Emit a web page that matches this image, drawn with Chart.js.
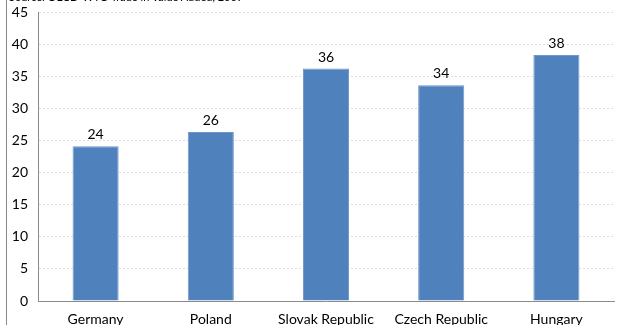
<!DOCTYPE html>
<html>
<head>
<meta charset="utf-8">
<script src="https://cdn.jsdelivr.net/npm/chart.js@4.4.1/dist/chart.umd.min.js"></script>
<style>
  html, body { margin: 0; padding: 0; background: #fff; overflow: hidden; }
  #wrap { position: relative; width: 617px; height: 325px; }
  #frame { position: absolute; left: 6px; top: 0; width: 0; height: 325px; border-left: 1px solid #8a8a8a; }
  #source { position: absolute; left: 9px; top: -10px; font: 11px Lato, sans-serif; color: #000; white-space: nowrap; }
  canvas { position: absolute; left: 0; top: 0; }
</style>
</head>
<body>
<div id="wrap">
  <canvas id="myChart" width="617" height="325"></canvas>
  <div id="frame"></div>
  <div id="source">Source: OECD-WTO Trade in Value Added, 2009</div>
</div>
<script>
const countries = ['Germany', 'Poland', 'Slovak Republic', 'Czech Republic', 'Hungary'];
const shares = [24.1, 26.3, 36.2, 33.6, 38.3];

const ctx = document.getElementById('myChart');

// value labels above each bar
const barLabels = {
    id: 'barLabels',
    afterDatasetsDraw(chart) {
        const c = chart.ctx;
        const meta = chart.getDatasetMeta(0);
        c.save();
        c.font = '14px Lato, sans-serif';
        c.fillStyle = '#000';
        c.textAlign = 'center';
        c.textBaseline = 'alphabetic';
        meta.data.forEach((bar, i) => {
            c.fillText(Math.round(shares[i]).toString(), bar.x, bar.y - 7);
        });
        c.restore();
    }
};

new Chart(ctx, {
    type: 'bar',
    data: {
        labels: countries,
        datasets: [
            {
                data: shares,
                backgroundColor: '#4f81bd',
                borderColor: '#6f97c9',
                borderWidth: 1,
                categoryPercentage: 1,
                barPercentage: 0.4
            }
        ]
    },
    options: {
        responsive: false,
        animation: false,
        layout: {
            padding: { left: 0, right: 3, top: 12, bottom: 0 }
        },
        plugins: {
            legend: { display: false },
            tooltip: { enabled: false }
        },
        scales: {
            x: {
                grid: { display: false },
                border: { display: true, color: '#8a8a8a' },
                ticks: {
                    color: '#000',
                    font: { family: 'Lato', size: 14 },
                    padding: 2,
                    maxRotation: 0
                },
                afterFit(scale) { scale.height = 24; }
            },
            y: {
                min: 0,
                max: 45,
                grid: {
                    color: (c) => c.tick.value === 0 ? 'rgba(0,0,0,0)' : '#dcdcdc',
                    drawTicks: false
                },
                border: { display: true, color: '#8a8a8a', dash: [2, 2] },
                ticks: {
                    stepSize: 5,
                    color: '#000',
                    font: { family: 'Lato', size: 14 },
                    padding: 10
                },
                afterFit(scale) {
                    scale.width = 38;
                    scale.paddingTop = 0;
                    scale.paddingBottom = 0;
                }
            }
        }
    },
    plugins: [barLabels]
});
</script>
</body>
</html>
